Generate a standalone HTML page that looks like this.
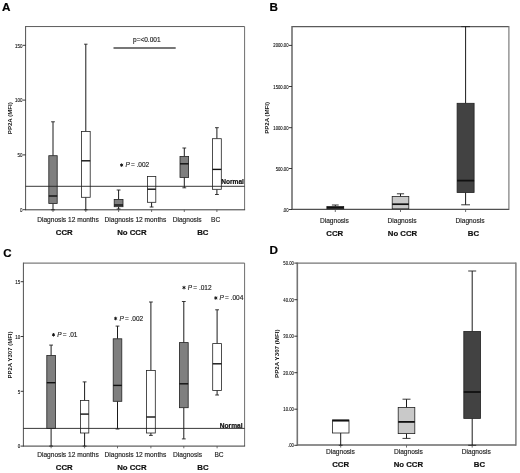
<!DOCTYPE html>
<html><head><meta charset="utf-8"><title>Figure</title>
<style>
html,body{margin:0;padding:0;background:#fff;}
body{width:520px;height:473px;overflow:hidden;}
svg{display:block;font-family:"Liberation Sans",sans-serif;filter:grayscale(100%) blur(0.35px);}
</style></head><body>
<svg width="520" height="473" viewBox="0 0 520 473">
<rect x="0" y="0" width="520" height="473" fill="#ffffff"/>
<text x="2" y="11.4" text-anchor="start" style="font-size:11.7px;font-weight:bold;" fill="#000" stroke="#000" stroke-width="0.2">A</text>
<line x1="25.6" y1="26.55" x2="244.6" y2="26.55" stroke="#5c5c5c" stroke-width="1.0"/>
<line x1="244.6" y1="26.55" x2="244.6" y2="209.8" stroke="#5c5c5c" stroke-width="0.9"/>
<line x1="25.6" y1="26.05" x2="25.6" y2="210.3" stroke="#505050" stroke-width="1.0"/>
<line x1="25.6" y1="209.8" x2="245.1" y2="209.8" stroke="#383838" stroke-width="1.0"/>
<line x1="22.900000000000002" y1="45.3" x2="25.6" y2="45.3" stroke="#222" stroke-width="0.9"/>
<text transform="translate(22.40,47.51) scale(1,1.15)" text-anchor="end" style="font-size:4.5px" fill="#111" stroke="#111" stroke-width="0.1">150</text>
<line x1="22.900000000000002" y1="100.1" x2="25.6" y2="100.1" stroke="#222" stroke-width="0.9"/>
<text transform="translate(22.40,102.31) scale(1,1.15)" text-anchor="end" style="font-size:4.5px" fill="#111" stroke="#111" stroke-width="0.1">100</text>
<line x1="22.900000000000002" y1="154.9" x2="25.6" y2="154.9" stroke="#222" stroke-width="0.9"/>
<text transform="translate(22.40,157.11) scale(1,1.15)" text-anchor="end" style="font-size:4.5px" fill="#111" stroke="#111" stroke-width="0.1">50</text>
<line x1="22.900000000000002" y1="209.7" x2="25.6" y2="209.7" stroke="#222" stroke-width="0.9"/>
<text transform="translate(22.40,211.91) scale(1,1.15)" text-anchor="end" style="font-size:4.5px" fill="#111" stroke="#111" stroke-width="0.1">0</text>
<text transform="translate(11.9,118.2) rotate(-90)" text-anchor="middle" style="font-size:6.1px;font-weight:bold" fill="#111">PP2A (MFI)</text>
<line x1="53.0" y1="121.8" x2="53.0" y2="155.7" stroke="#000" stroke-width="0.9"/>
<line x1="51.1" y1="121.8" x2="54.9" y2="121.8" stroke="#222" stroke-width="0.9"/>
<line x1="53.0" y1="203.5" x2="53.0" y2="209.8" stroke="#000" stroke-width="0.9"/>
<line x1="51.1" y1="209.8" x2="54.9" y2="209.8" stroke="#222" stroke-width="0.9"/>
<rect x="48.8" y="155.7" width="8.40" height="47.80" fill="#7f7f7f" stroke="#222" stroke-width="0.8"/>
<line x1="48.8" y1="196" x2="57.2" y2="196" stroke="#111" stroke-width="1.4"/>
<line x1="85.8" y1="44.2" x2="85.8" y2="131.5" stroke="#000" stroke-width="0.9"/>
<line x1="84.1" y1="44.2" x2="87.5" y2="44.2" stroke="#222" stroke-width="0.9"/>
<line x1="85.8" y1="197.3" x2="85.8" y2="209.8" stroke="#000" stroke-width="0.9"/>
<line x1="84.1" y1="209.8" x2="87.5" y2="209.8" stroke="#222" stroke-width="0.9"/>
<rect x="81.39999999999999" y="131.5" width="8.80" height="65.80" fill="#ffffff" stroke="#222" stroke-width="0.8"/>
<line x1="81.39999999999999" y1="160.8" x2="90.2" y2="160.8" stroke="#111" stroke-width="1.4"/>
<line x1="118.6" y1="190" x2="118.6" y2="199.4" stroke="#000" stroke-width="0.9"/>
<line x1="116.69999999999999" y1="190" x2="120.5" y2="190" stroke="#222" stroke-width="0.9"/>
<line x1="118.6" y1="206.7" x2="118.6" y2="209.0" stroke="#000" stroke-width="0.9"/>
<line x1="116.69999999999999" y1="209.0" x2="120.5" y2="209.0" stroke="#222" stroke-width="0.9"/>
<rect x="114.19999999999999" y="199.4" width="8.80" height="7.30" fill="#7f7f7f" stroke="#222" stroke-width="0.8"/>
<line x1="114.19999999999999" y1="205" x2="123.0" y2="205" stroke="#111" stroke-width="1.4"/>
<line x1="151.6" y1="202.3" x2="151.6" y2="207" stroke="#000" stroke-width="0.9"/>
<line x1="149.7" y1="207" x2="153.5" y2="207" stroke="#222" stroke-width="0.9"/>
<rect x="147.4" y="176.4" width="8.40" height="25.90" fill="#ffffff" stroke="#222" stroke-width="0.8"/>
<line x1="147.4" y1="189.2" x2="155.79999999999998" y2="189.2" stroke="#111" stroke-width="1.4"/>
<line x1="184.3" y1="148" x2="184.3" y2="156.5" stroke="#000" stroke-width="0.9"/>
<line x1="182.4" y1="148" x2="186.20000000000002" y2="148" stroke="#222" stroke-width="0.9"/>
<line x1="184.3" y1="177.4" x2="184.3" y2="187.8" stroke="#000" stroke-width="0.9"/>
<line x1="182.4" y1="187.8" x2="186.20000000000002" y2="187.8" stroke="#222" stroke-width="0.9"/>
<rect x="180.0" y="156.5" width="8.60" height="20.90" fill="#7f7f7f" stroke="#222" stroke-width="0.8"/>
<line x1="180.0" y1="163.8" x2="188.60000000000002" y2="163.8" stroke="#111" stroke-width="1.4"/>
<line x1="216.9" y1="127.7" x2="216.9" y2="138.7" stroke="#000" stroke-width="0.9"/>
<line x1="215.0" y1="127.7" x2="218.8" y2="127.7" stroke="#222" stroke-width="0.9"/>
<line x1="216.9" y1="189.3" x2="216.9" y2="194.5" stroke="#000" stroke-width="0.9"/>
<line x1="215.0" y1="194.5" x2="218.8" y2="194.5" stroke="#222" stroke-width="0.9"/>
<rect x="212.5" y="138.7" width="8.80" height="50.60" fill="#ffffff" stroke="#222" stroke-width="0.8"/>
<line x1="212.5" y1="169.4" x2="221.3" y2="169.4" stroke="#111" stroke-width="1.4"/>
<line x1="25.6" y1="186.3" x2="244.6" y2="186.3" stroke="#222" stroke-width="0.9"/>
<line x1="53" y1="209.8" x2="53" y2="212" stroke="#4a4a4a" stroke-width="0.8"/>
<line x1="85.8" y1="209.8" x2="85.8" y2="212" stroke="#4a4a4a" stroke-width="0.8"/>
<line x1="118.6" y1="209.8" x2="118.6" y2="212" stroke="#4a4a4a" stroke-width="0.8"/>
<line x1="151.6" y1="209.8" x2="151.6" y2="212" stroke="#4a4a4a" stroke-width="0.8"/>
<line x1="184.3" y1="209.8" x2="184.3" y2="212" stroke="#4a4a4a" stroke-width="0.8"/>
<line x1="216.9" y1="209.8" x2="216.9" y2="212" stroke="#4a4a4a" stroke-width="0.8"/>
<text x="243.9" y="184.1" text-anchor="end" style="font-size:6.6px;font-weight:bold;" fill="#111" stroke="#111" stroke-width="0.2">Normal</text>
<line x1="113.5" y1="47.9" x2="175.7" y2="47.9" stroke="#4a4a4a" stroke-width="1.5"/>
<text x="146.8" y="42.3" text-anchor="middle" style="font-size:6.5px;" fill="#222" stroke="#222" stroke-width="0.15">p=&lt;0.001</text>
<line x1="121.6" y1="163.35" x2="121.6" y2="166.85" stroke="#111" stroke-width="0.95"/>
<line x1="120.08" y1="164.22" x2="123.12" y2="165.97" stroke="#111" stroke-width="0.95"/>
<line x1="123.12" y1="164.22" x2="120.08" y2="165.97" stroke="#111" stroke-width="0.95"/>
<text x="125.39999999999999" y="167.1" text-anchor="start" style="font-size:6.5px;font-style:italic;" fill="#222" stroke="#222" stroke-width="0.15">P</text>
<text x="130.9" y="167.1" text-anchor="start" style="font-size:6.5px;" fill="#222" stroke="#222" stroke-width="0.15">= .002</text>
<text x="68.0" y="221.6" text-anchor="middle" style="font-size:6.6px;" fill="#222" stroke="#222" stroke-width="0.15">Diagnosis 12 months</text>
<text x="135.4" y="221.6" text-anchor="middle" style="font-size:6.6px;" fill="#222" stroke="#222" stroke-width="0.15">Diagnosis 12 months</text>
<text x="187.2" y="221.6" text-anchor="middle" style="font-size:6.6px;" fill="#222" stroke="#222" stroke-width="0.15">Diagnosis</text>
<text x="215.6" y="221.6" text-anchor="middle" style="font-size:6.6px;" fill="#222" stroke="#222" stroke-width="0.15">BC</text>
<text x="64.3" y="235" text-anchor="middle" style="font-size:7.8px;font-weight:bold;" fill="#111" stroke="#111" stroke-width="0.2">CCR</text>
<text x="131.9" y="235" text-anchor="middle" style="font-size:7.8px;font-weight:bold;" fill="#111" stroke="#111" stroke-width="0.2">No CCR</text>
<text x="202.8" y="235" text-anchor="middle" style="font-size:7.8px;font-weight:bold;" fill="#111" stroke="#111" stroke-width="0.2">BC</text>
<text x="269.6" y="11.4" text-anchor="start" style="font-size:11.7px;font-weight:bold;" fill="#000" stroke="#000" stroke-width="0.2">B</text>
<line x1="292" y1="26.6" x2="508.9" y2="26.6" stroke="#5a5a5a" stroke-width="1.1"/>
<line x1="508.9" y1="26.1" x2="508.9" y2="209.9" stroke="#707070" stroke-width="1.1"/>
<line x1="292" y1="26.1" x2="292" y2="209.9" stroke="#666" stroke-width="1.5"/>
<line x1="292" y1="209.3" x2="508.9" y2="209.3" stroke="#505050" stroke-width="1.25"/>
<line x1="289.0" y1="45.4" x2="292" y2="45.4" stroke="#222" stroke-width="0.9"/>
<text transform="translate(288.50,47.49) scale(1,1.15)" text-anchor="end" style="font-size:4.2px" fill="#111" stroke="#111" stroke-width="0.1">2000.00</text>
<line x1="289.0" y1="86.5" x2="292" y2="86.5" stroke="#222" stroke-width="0.9"/>
<text transform="translate(288.50,88.59) scale(1,1.15)" text-anchor="end" style="font-size:4.2px" fill="#111" stroke="#111" stroke-width="0.1">1500.00</text>
<line x1="289.0" y1="127.7" x2="292" y2="127.7" stroke="#222" stroke-width="0.9"/>
<text transform="translate(288.50,129.79) scale(1,1.15)" text-anchor="end" style="font-size:4.2px" fill="#111" stroke="#111" stroke-width="0.1">1000.00</text>
<line x1="289.0" y1="168.5" x2="292" y2="168.5" stroke="#222" stroke-width="0.9"/>
<text transform="translate(288.50,170.59) scale(1,1.15)" text-anchor="end" style="font-size:4.2px" fill="#111" stroke="#111" stroke-width="0.1">500.00</text>
<line x1="289.0" y1="209.5" x2="292" y2="209.5" stroke="#222" stroke-width="0.9"/>
<text transform="translate(288.50,211.59) scale(1,1.15)" text-anchor="end" style="font-size:4.2px" fill="#111" stroke="#111" stroke-width="0.1">.00</text>
<text transform="translate(269.2,117.9) rotate(-90)" text-anchor="middle" style="font-size:6.1px;font-weight:bold" fill="#111">PP2A (MFI)</text>
<line x1="335.3" y1="205.0" x2="335.3" y2="206.5" stroke="#000" stroke-width="0.9"/>
<line x1="331.90000000000003" y1="205.0" x2="338.7" y2="205.0" stroke="#222" stroke-width="0.9"/>
<rect x="326.90000000000003" y="206.5" width="16.80" height="2.30" fill="#424242" stroke="#222" stroke-width="0.8"/>
<line x1="326.90000000000003" y1="207.7" x2="343.7" y2="207.7" stroke="#111" stroke-width="1.4"/>
<line x1="400.5" y1="193.8" x2="400.5" y2="196.5" stroke="#000" stroke-width="0.9"/>
<line x1="396.9" y1="193.8" x2="404.1" y2="193.8" stroke="#222" stroke-width="0.9"/>
<rect x="392.2" y="196.5" width="16.60" height="12.30" fill="#c9c9c9" stroke="#222" stroke-width="0.8"/>
<line x1="392.2" y1="204.2" x2="408.8" y2="204.2" stroke="#111" stroke-width="1.7"/>
<line x1="465.6" y1="26.6" x2="465.6" y2="103.3" stroke="#000" stroke-width="0.9"/>
<line x1="461.20000000000005" y1="26.6" x2="470.0" y2="26.6" stroke="#222" stroke-width="0.9"/>
<line x1="465.6" y1="192.5" x2="465.6" y2="204.8" stroke="#000" stroke-width="0.9"/>
<line x1="461.20000000000005" y1="204.8" x2="470.0" y2="204.8" stroke="#222" stroke-width="0.9"/>
<rect x="457.1" y="103.3" width="17.00" height="89.20" fill="#424242" stroke="#222" stroke-width="0.8"/>
<line x1="457.1" y1="180.6" x2="474.1" y2="180.6" stroke="#111" stroke-width="1.8"/>
<line x1="335.3" y1="209.6" x2="335.3" y2="212" stroke="#4a4a4a" stroke-width="0.8"/>
<line x1="400.5" y1="209.6" x2="400.5" y2="212" stroke="#4a4a4a" stroke-width="0.8"/>
<line x1="465.6" y1="209.6" x2="465.6" y2="212" stroke="#4a4a4a" stroke-width="0.8"/>
<text x="334.4" y="222.6" text-anchor="middle" style="font-size:6.6px;" fill="#222" stroke="#222" stroke-width="0.15">Diagnosis</text>
<text x="402" y="222.6" text-anchor="middle" style="font-size:6.6px;" fill="#222" stroke="#222" stroke-width="0.15">Diagnosis</text>
<text x="470" y="222.6" text-anchor="middle" style="font-size:6.6px;" fill="#222" stroke="#222" stroke-width="0.15">Diagnosis</text>
<text x="334.8" y="236" text-anchor="middle" style="font-size:7.8px;font-weight:bold;" fill="#111" stroke="#111" stroke-width="0.2">CCR</text>
<text x="402.5" y="236" text-anchor="middle" style="font-size:7.8px;font-weight:bold;" fill="#111" stroke="#111" stroke-width="0.2">No CCR</text>
<text x="473.5" y="236" text-anchor="middle" style="font-size:7.8px;font-weight:bold;" fill="#111" stroke="#111" stroke-width="0.2">BC</text>
<text x="3.3" y="257.4" text-anchor="start" style="font-size:11.5px;font-weight:bold;" fill="#000" stroke="#000" stroke-width="0.2">C</text>
<line x1="23.4" y1="263.1" x2="244.6" y2="263.1" stroke="#5c5c5c" stroke-width="1.0"/>
<line x1="244.6" y1="263.1" x2="244.6" y2="446.1" stroke="#5c5c5c" stroke-width="0.9"/>
<line x1="23.4" y1="262.6" x2="23.4" y2="446.6" stroke="#505050" stroke-width="1.0"/>
<line x1="23.4" y1="446.1" x2="245.1" y2="446.1" stroke="#383838" stroke-width="1.0"/>
<line x1="20.7" y1="281.7" x2="23.4" y2="281.7" stroke="#222" stroke-width="0.9"/>
<text transform="translate(20.20,283.91) scale(1,1.15)" text-anchor="end" style="font-size:4.5px" fill="#111" stroke="#111" stroke-width="0.1">15</text>
<line x1="20.7" y1="336.5" x2="23.4" y2="336.5" stroke="#222" stroke-width="0.9"/>
<text transform="translate(20.20,338.71) scale(1,1.15)" text-anchor="end" style="font-size:4.5px" fill="#111" stroke="#111" stroke-width="0.1">10</text>
<line x1="20.7" y1="391.3" x2="23.4" y2="391.3" stroke="#222" stroke-width="0.9"/>
<text transform="translate(20.20,393.51) scale(1,1.15)" text-anchor="end" style="font-size:4.5px" fill="#111" stroke="#111" stroke-width="0.1">5</text>
<line x1="20.7" y1="446.1" x2="23.4" y2="446.1" stroke="#222" stroke-width="0.9"/>
<text transform="translate(20.20,448.31) scale(1,1.15)" text-anchor="end" style="font-size:4.5px" fill="#111" stroke="#111" stroke-width="0.1">0</text>
<text transform="translate(12.2,355) rotate(-90)" text-anchor="middle" style="font-size:6.0px;font-weight:bold" fill="#111">PP2A Y307 (MFI)</text>
<line x1="51.1" y1="345.1" x2="51.1" y2="355.5" stroke="#000" stroke-width="0.9"/>
<line x1="49.2" y1="345.1" x2="53.0" y2="345.1" stroke="#222" stroke-width="0.9"/>
<line x1="51.1" y1="428.5" x2="51.1" y2="446.1" stroke="#000" stroke-width="0.9"/>
<line x1="49.2" y1="446.1" x2="53.0" y2="446.1" stroke="#222" stroke-width="0.9"/>
<rect x="46.800000000000004" y="355.5" width="8.60" height="73.00" fill="#7f7f7f" stroke="#222" stroke-width="0.8"/>
<line x1="46.800000000000004" y1="382.7" x2="55.4" y2="382.7" stroke="#111" stroke-width="1.4"/>
<line x1="84.6" y1="381.9" x2="84.6" y2="400.5" stroke="#000" stroke-width="0.9"/>
<line x1="82.69999999999999" y1="381.9" x2="86.5" y2="381.9" stroke="#222" stroke-width="0.9"/>
<line x1="84.6" y1="433" x2="84.6" y2="446.1" stroke="#000" stroke-width="0.9"/>
<line x1="82.69999999999999" y1="446.1" x2="86.5" y2="446.1" stroke="#222" stroke-width="0.9"/>
<rect x="80.39999999999999" y="400.5" width="8.40" height="32.50" fill="#ffffff" stroke="#222" stroke-width="0.8"/>
<line x1="80.39999999999999" y1="414.1" x2="88.8" y2="414.1" stroke="#111" stroke-width="1.4"/>
<line x1="117.5" y1="326.1" x2="117.5" y2="338.8" stroke="#000" stroke-width="0.9"/>
<line x1="115.6" y1="326.1" x2="119.4" y2="326.1" stroke="#222" stroke-width="0.9"/>
<line x1="117.5" y1="401.3" x2="117.5" y2="429" stroke="#000" stroke-width="0.9"/>
<line x1="115.6" y1="429" x2="119.4" y2="429" stroke="#222" stroke-width="0.9"/>
<rect x="113.2" y="338.8" width="8.60" height="62.50" fill="#7f7f7f" stroke="#222" stroke-width="0.8"/>
<line x1="113.2" y1="385.4" x2="121.8" y2="385.4" stroke="#111" stroke-width="1.4"/>
<line x1="150.9" y1="302" x2="150.9" y2="370.4" stroke="#000" stroke-width="0.9"/>
<line x1="149.0" y1="302" x2="152.8" y2="302" stroke="#222" stroke-width="0.9"/>
<line x1="150.9" y1="433" x2="150.9" y2="435.4" stroke="#000" stroke-width="0.9"/>
<line x1="149.0" y1="435.4" x2="152.8" y2="435.4" stroke="#222" stroke-width="0.9"/>
<rect x="146.5" y="370.4" width="8.80" height="62.60" fill="#ffffff" stroke="#222" stroke-width="0.8"/>
<line x1="146.5" y1="417" x2="155.3" y2="417" stroke="#111" stroke-width="1.4"/>
<line x1="183.8" y1="301.5" x2="183.8" y2="342.6" stroke="#000" stroke-width="0.9"/>
<line x1="181.9" y1="301.5" x2="185.70000000000002" y2="301.5" stroke="#222" stroke-width="0.9"/>
<line x1="183.8" y1="407.7" x2="183.8" y2="438.9" stroke="#000" stroke-width="0.9"/>
<line x1="181.9" y1="438.9" x2="185.70000000000002" y2="438.9" stroke="#222" stroke-width="0.9"/>
<rect x="179.4" y="342.6" width="8.80" height="65.10" fill="#7f7f7f" stroke="#222" stroke-width="0.8"/>
<line x1="179.4" y1="383.8" x2="188.20000000000002" y2="383.8" stroke="#111" stroke-width="1.4"/>
<line x1="217.1" y1="309.8" x2="217.1" y2="343.6" stroke="#000" stroke-width="0.9"/>
<line x1="215.2" y1="309.8" x2="219.0" y2="309.8" stroke="#222" stroke-width="0.9"/>
<line x1="217.1" y1="390.4" x2="217.1" y2="395" stroke="#000" stroke-width="0.9"/>
<line x1="215.2" y1="395" x2="219.0" y2="395" stroke="#222" stroke-width="0.9"/>
<rect x="212.7" y="343.6" width="8.80" height="46.80" fill="#ffffff" stroke="#222" stroke-width="0.8"/>
<line x1="212.7" y1="363.8" x2="221.5" y2="363.8" stroke="#111" stroke-width="1.4"/>
<line x1="23.4" y1="428.4" x2="244.6" y2="428.4" stroke="#222" stroke-width="0.9"/>
<line x1="51.1" y1="446.1" x2="51.1" y2="448.3" stroke="#4a4a4a" stroke-width="0.8"/>
<line x1="84.6" y1="446.1" x2="84.6" y2="448.3" stroke="#4a4a4a" stroke-width="0.8"/>
<line x1="117.5" y1="446.1" x2="117.5" y2="448.3" stroke="#4a4a4a" stroke-width="0.8"/>
<line x1="150.9" y1="446.1" x2="150.9" y2="448.3" stroke="#4a4a4a" stroke-width="0.8"/>
<line x1="183.8" y1="446.1" x2="183.8" y2="448.3" stroke="#4a4a4a" stroke-width="0.8"/>
<line x1="217.1" y1="446.1" x2="217.1" y2="448.3" stroke="#4a4a4a" stroke-width="0.8"/>
<text x="242.5" y="427.5" text-anchor="end" style="font-size:6.6px;font-weight:bold;" fill="#111" stroke="#111" stroke-width="0.2">Normal</text>
<line x1="53.5" y1="333.05" x2="53.5" y2="336.55" stroke="#111" stroke-width="0.95"/>
<line x1="51.98" y1="333.93" x2="55.02" y2="335.68" stroke="#111" stroke-width="0.95"/>
<line x1="55.02" y1="333.93" x2="51.98" y2="335.68" stroke="#111" stroke-width="0.95"/>
<text x="57.3" y="336.8" text-anchor="start" style="font-size:6.5px;font-style:italic;" fill="#222" stroke="#222" stroke-width="0.15">P</text>
<text x="62.8" y="336.8" text-anchor="start" style="font-size:6.5px;" fill="#222" stroke="#222" stroke-width="0.15">= .01</text>
<line x1="115.6" y1="316.75" x2="115.6" y2="320.25" stroke="#111" stroke-width="0.95"/>
<line x1="114.08" y1="317.62" x2="117.12" y2="319.38" stroke="#111" stroke-width="0.95"/>
<line x1="117.12" y1="317.62" x2="114.08" y2="319.38" stroke="#111" stroke-width="0.95"/>
<text x="119.39999999999999" y="320.5" text-anchor="start" style="font-size:6.5px;font-style:italic;" fill="#222" stroke="#222" stroke-width="0.15">P</text>
<text x="124.89999999999999" y="320.5" text-anchor="start" style="font-size:6.5px;" fill="#222" stroke="#222" stroke-width="0.15">= .002</text>
<line x1="184.0" y1="285.85" x2="184.0" y2="289.35" stroke="#111" stroke-width="0.95"/>
<line x1="182.48" y1="286.73" x2="185.52" y2="288.48" stroke="#111" stroke-width="0.95"/>
<line x1="185.52" y1="286.73" x2="182.48" y2="288.48" stroke="#111" stroke-width="0.95"/>
<text x="187.8" y="289.6" text-anchor="start" style="font-size:6.5px;font-style:italic;" fill="#222" stroke="#222" stroke-width="0.15">P</text>
<text x="193.3" y="289.6" text-anchor="start" style="font-size:6.5px;" fill="#222" stroke="#222" stroke-width="0.15">= .012</text>
<line x1="215.8" y1="296.25" x2="215.8" y2="299.75" stroke="#111" stroke-width="0.95"/>
<line x1="214.28" y1="297.12" x2="217.32" y2="298.88" stroke="#111" stroke-width="0.95"/>
<line x1="217.32" y1="297.12" x2="214.28" y2="298.88" stroke="#111" stroke-width="0.95"/>
<text x="219.60000000000002" y="300" text-anchor="start" style="font-size:6.5px;font-style:italic;" fill="#222" stroke="#222" stroke-width="0.15">P</text>
<text x="225.10000000000002" y="300" text-anchor="start" style="font-size:6.5px;" fill="#222" stroke="#222" stroke-width="0.15">= .004</text>
<text x="68.0" y="456.9" text-anchor="middle" style="font-size:6.6px;" fill="#222" stroke="#222" stroke-width="0.15">Diagnosis 12 months</text>
<text x="135.4" y="456.9" text-anchor="middle" style="font-size:6.6px;" fill="#222" stroke="#222" stroke-width="0.15">Diagnosis 12 months</text>
<text x="187.6" y="456.9" text-anchor="middle" style="font-size:6.6px;" fill="#222" stroke="#222" stroke-width="0.15">Diagnosis</text>
<text x="219" y="456.9" text-anchor="middle" style="font-size:6.6px;" fill="#222" stroke="#222" stroke-width="0.15">BC</text>
<text x="64.3" y="470.1" text-anchor="middle" style="font-size:7.8px;font-weight:bold;" fill="#111" stroke="#111" stroke-width="0.2">CCR</text>
<text x="131.9" y="470.1" text-anchor="middle" style="font-size:7.8px;font-weight:bold;" fill="#111" stroke="#111" stroke-width="0.2">No CCR</text>
<text x="203" y="470.1" text-anchor="middle" style="font-size:7.8px;font-weight:bold;" fill="#111" stroke="#111" stroke-width="0.2">BC</text>
<text x="269.6" y="254.3" text-anchor="start" style="font-size:11.7px;font-weight:bold;" fill="#000" stroke="#000" stroke-width="0.2">D</text>
<line x1="297.3" y1="263.1" x2="515.9" y2="263.1" stroke="#747474" stroke-width="1.45"/>
<line x1="515.9" y1="262.5" x2="515.9" y2="445.7" stroke="#7c7c7c" stroke-width="1.5"/>
<line x1="297.3" y1="262.5" x2="297.3" y2="445.7" stroke="#747474" stroke-width="1.6"/>
<line x1="297.3" y1="445.0" x2="515.9" y2="445.0" stroke="#6a6a6a" stroke-width="1.5"/>
<line x1="294.3" y1="263.1" x2="297.3" y2="263.1" stroke="#222" stroke-width="0.9"/>
<text transform="translate(293.80,265.19) scale(1,1.15)" text-anchor="end" style="font-size:4.2px" fill="#111" stroke="#111" stroke-width="0.1">50.00</text>
<line x1="294.3" y1="299.7" x2="297.3" y2="299.7" stroke="#222" stroke-width="0.9"/>
<text transform="translate(293.80,301.79) scale(1,1.15)" text-anchor="end" style="font-size:4.2px" fill="#111" stroke="#111" stroke-width="0.1">40.00</text>
<line x1="294.3" y1="336.2" x2="297.3" y2="336.2" stroke="#222" stroke-width="0.9"/>
<text transform="translate(293.80,338.29) scale(1,1.15)" text-anchor="end" style="font-size:4.2px" fill="#111" stroke="#111" stroke-width="0.1">30.00</text>
<line x1="294.3" y1="372.7" x2="297.3" y2="372.7" stroke="#222" stroke-width="0.9"/>
<text transform="translate(293.80,374.79) scale(1,1.15)" text-anchor="end" style="font-size:4.2px" fill="#111" stroke="#111" stroke-width="0.1">20.00</text>
<line x1="294.3" y1="409.2" x2="297.3" y2="409.2" stroke="#222" stroke-width="0.9"/>
<text transform="translate(293.80,411.29) scale(1,1.15)" text-anchor="end" style="font-size:4.2px" fill="#111" stroke="#111" stroke-width="0.1">10.00</text>
<line x1="294.3" y1="445.3" x2="297.3" y2="445.3" stroke="#222" stroke-width="0.9"/>
<text transform="translate(293.80,447.39) scale(1,1.15)" text-anchor="end" style="font-size:4.2px" fill="#111" stroke="#111" stroke-width="0.1">.00</text>
<text transform="translate(279.0,353.7) rotate(-90)" text-anchor="middle" style="font-size:6.2px;font-weight:bold" fill="#111">PP2A Y307 (MFI)</text>
<line x1="340.7" y1="433" x2="340.7" y2="445.3" stroke="#000" stroke-width="0.9"/>
<line x1="338.8" y1="445.3" x2="342.59999999999997" y2="445.3" stroke="#222" stroke-width="0.9"/>
<rect x="332.4" y="420" width="16.60" height="13.00" fill="#ffffff" stroke="#222" stroke-width="0.8"/>
<line x1="332.4" y1="420.6" x2="349.0" y2="420.6" stroke="#111" stroke-width="1.9"/>
<line x1="406.5" y1="399.2" x2="406.5" y2="407.5" stroke="#000" stroke-width="0.9"/>
<line x1="402.5" y1="399.2" x2="410.5" y2="399.2" stroke="#222" stroke-width="0.9"/>
<line x1="406.5" y1="433.6" x2="406.5" y2="438.4" stroke="#000" stroke-width="0.9"/>
<line x1="402.5" y1="438.4" x2="410.5" y2="438.4" stroke="#222" stroke-width="0.9"/>
<rect x="398.2" y="407.5" width="16.60" height="26.10" fill="#c9c9c9" stroke="#222" stroke-width="0.8"/>
<line x1="398.2" y1="421.9" x2="414.8" y2="421.9" stroke="#111" stroke-width="1.8"/>
<line x1="472.2" y1="271" x2="472.2" y2="331.4" stroke="#000" stroke-width="0.9"/>
<line x1="468.2" y1="271" x2="476.2" y2="271" stroke="#222" stroke-width="0.9"/>
<line x1="472.2" y1="418.4" x2="472.2" y2="445.3" stroke="#000" stroke-width="0.9"/>
<line x1="468.2" y1="445.3" x2="476.2" y2="445.3" stroke="#222" stroke-width="0.9"/>
<rect x="463.8" y="331.4" width="16.80" height="87.00" fill="#424242" stroke="#222" stroke-width="0.8"/>
<line x1="463.8" y1="392" x2="480.59999999999997" y2="392" stroke="#111" stroke-width="1.8"/>
<line x1="340.7" y1="445.3" x2="340.7" y2="447.6" stroke="#4a4a4a" stroke-width="0.8"/>
<line x1="406.5" y1="445.3" x2="406.5" y2="447.6" stroke="#4a4a4a" stroke-width="0.8"/>
<line x1="472.2" y1="445.3" x2="472.2" y2="447.6" stroke="#4a4a4a" stroke-width="0.8"/>
<text x="340.4" y="454.4" text-anchor="middle" style="font-size:6.6px;" fill="#222" stroke="#222" stroke-width="0.15">Diagnosis</text>
<text x="408.4" y="454.4" text-anchor="middle" style="font-size:6.6px;" fill="#222" stroke="#222" stroke-width="0.15">Diagnosis</text>
<text x="476.3" y="454.4" text-anchor="middle" style="font-size:6.6px;" fill="#222" stroke="#222" stroke-width="0.15">Diagnosis</text>
<text x="340.6" y="467" text-anchor="middle" style="font-size:7.8px;font-weight:bold;" fill="#111" stroke="#111" stroke-width="0.2">CCR</text>
<text x="408.4" y="467" text-anchor="middle" style="font-size:7.8px;font-weight:bold;" fill="#111" stroke="#111" stroke-width="0.2">No CCR</text>
<text x="479.4" y="467" text-anchor="middle" style="font-size:7.8px;font-weight:bold;" fill="#111" stroke="#111" stroke-width="0.2">BC</text>
</svg>
</body></html>
